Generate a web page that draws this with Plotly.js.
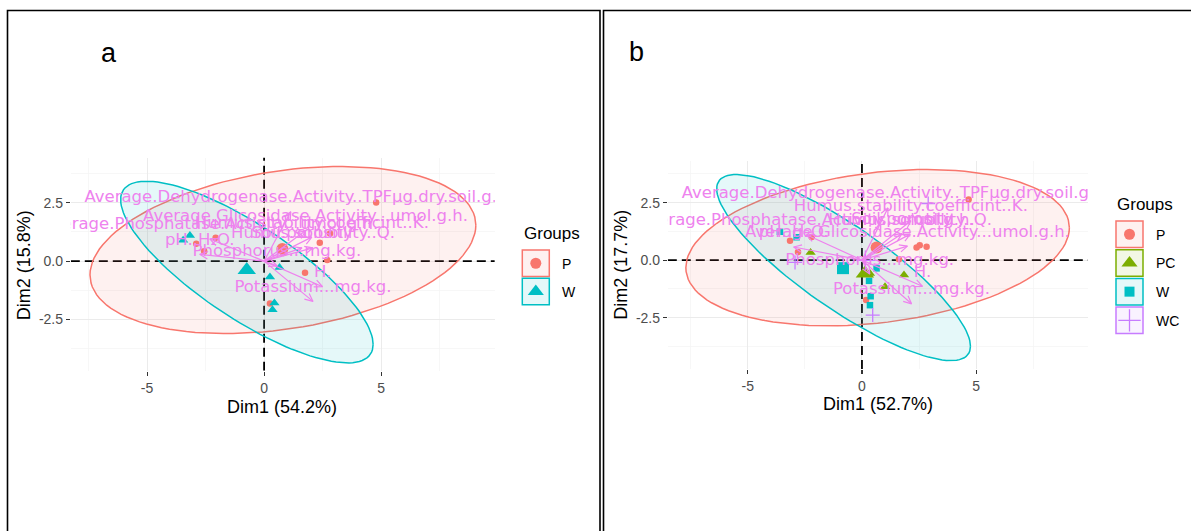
<!DOCTYPE html>
<html><head><meta charset="utf-8">
<script src="https://cdn.plot.ly/plotly-3.0.1.min.js"></script>
<style>html,body{margin:0;padding:0;background:#fff;}#chart{width:1191px;height:531px;}</style>
</head><body><div id="chart"></div>
<script>
// ---------------- data : panel a ----------------
const groupsA = ['P', 'W'];
const aP_x = [4.79, 2.82, 2.38, 2.70, 1.75, 0.25, 0.83, -2.07, -2.90, -2.56];
const aP_y = [2.52, 1.18, 0.79, 0.05, -0.50, -1.82, 0.35, 1.00, 0.74, 0.42];
const aW_x = [-3.17, -3.46, 0.66, 0.25, 0.44, 0.36];
const aW_y = [1.10, 0.89, -0.28, -0.68, -1.80, -2.09];
const aCentre_x = [0.78, -0.74];
const aCentre_y = [0.52, -0.38];
const aVarNames = ['Average.Dehydrogenase.Activity..TPFµg.dry.soil.g.', 'Average.Glicosidase.Activity...umol.g.h.',
  'Average.Phosphatase.Activity...umol.g.h.', 'Humus.stability.coefficint..K.', 'Soil.porosity',
  'Humus.solubility..Q.', 'pH..H₂O.', 'Phosphorus...mg.kg.', 'H.', 'Potassium...mg.kg.'];
const aVar_x = [1.14, 1.77, -2.32, 2.04, 1.62, 2.09, -2.75, 0.55, 2.50, 2.09];
const aVar_y = [2.12, 1.30, 0.95, 1.03, 0.57, 0.57, 0.29, -0.20, -1.10, -1.73];
// ellipse: centre x, centre y, half width, half height, x-shift of top point
const aEllP = [0.805, 0.475, 8.245, 3.585, 2.455];
const aEllW = [-0.735, -0.47, 5.395, 3.90, -4.295];
const aRangeX = [-8.26, 9.86], aRangeY = [-4.708, 4.446];
const aTitleX = 'Dim1 (54.2%)', aTitleY = 'Dim2 (15.8%)';

// ---------------- data : panel b ----------------
const groupsB = ['P', 'PC', 'W', 'WC'];
const bP_x = [4.67, 2.83, 2.53, 2.39, 1.62, 0.18, -2.20, -3.15, -2.80];
const bP_y = [2.64, 0.58, 0.65, 0.55, 0.04, -1.74, 1.00, 0.84, 0.35];
const bPC_x = [-2.25, 1.84, 1.01, 0.35];
const bPC_y = [0.33, -0.65, -1.16, -0.58];
const bW_x = [-3.59, -2.86, 0.64, 0.31, 0.38, 0.35];
const bW_y = [1.23, 0.99, -0.36, -0.90, -1.57, -1.96];
const bWC_x = [0.47, -2.93, 2.90];
const bWC_y = [-2.39, -0.10, 2.46];
const bCentre_x = [0.64, 0.13, -0.83, 0.15];
const bCentre_y = [0.55, -0.58, -0.35, -0.01];
const bVarNames = ['Average.Dehydrogenase.Activity..TPFµg.dry.soil.g.', 'Humus.stability.coefficint..K.',
  'Average.Phosphatase.Activity...umol.g.h.', 'Humus.solubility..Q.', 'Soil.porosity',
  'Average.Glicosidase.Activity...umol.g.h.', 'pH..H₂O.', 'Phosphorus...mg.kg.', 'H.', 'Potassium...mg.kg.'];
const bVar_x = [1.14, 2.14, -2.43, 2.11, 1.75, 1.99, -2.99, 0.34, 2.65, 2.17];
const bVar_y = [2.27, 1.71, 1.10, 1.13, 1.15, 0.61, 0.57, -0.61, -1.14, -1.90];
const bEllP = [0.685, 0.54, 8.395, 3.40, 2.145];
const bEllW = [-0.805, -0.325, 5.555, 4.045, -4.70];
const bRangeX = [-8.5, 9.9], bRangeY = [-4.735, 4.309];
const bTitleX = 'Dim1 (52.7%)', bTitleY = 'Dim2 (17.7%)';

const xTickVals = [-5, 0, 5], xTickText = ['-5', '0', '5'];
const yTickVals = [-2.5, 0, 2.5], yTickText = ['-2.5', '0.0', '2.5'];

// ---------------- styling ----------------
const COL = {P: '#F8766D', PC: '#7CAE00', W: '#00BFC4', WC: '#C77CFF'};
const FILL = {P: 'rgba(248,118,109,0.10)', PC: 'rgba(124,174,0,0.10)', W: 'rgba(0,191,196,0.10)', WC: 'rgba(199,124,255,0.10)'};
const SYM_A = {P: 'circle', W: 'triangle-up'};
const SYM_B = {P: 'circle', PC: 'triangle-up', W: 'square', WC: 'cross-thin'};
const SIZE_SMALL = {'circle': 6.5, 'triangle-up': 9, 'square': 6.5, 'cross-thin': 10};
const SIZE_BIG = {'circle': 12, 'triangle-up': 16, 'square': 12, 'cross-thin': 14};
const SIZE_KEY = {'circle': 11, 'triangle-up': 14, 'square': 10, 'cross-thin': 16};
const VIOLET = '#EE82EE';
const W = 1191, H = 531;
const px = v => v / W, py = v => 1 - v / H;
const SANS = 'Liberation Sans, Arial, sans-serif';

function ellipse(p) {
  const [cx, cy, hw, hh, sh] = p;
  const B = sh * hh / hw, C = Math.sqrt(hh * hh - B * B);
  const xs = [], ys = [];
  for (let i = 0; i <= 120; i++) {
    const t = 2 * Math.PI * i / 120;
    xs.push(cx + hw * Math.cos(t));
    ys.push(cy + B * Math.cos(t) + C * Math.sin(t));
  }
  return [xs, ys];
}
function arrows(xs, ys) {
  const X = [], Y = [], L = 0.38, a = 25 * Math.PI / 180;
  xs.forEach((x, i) => {
    const y = ys[i], th = Math.atan2(y, x);
    X.push(0, x, null, x - L * Math.cos(th + a), x, x - L * Math.cos(th - a), null);
    Y.push(0, y, null, y - L * Math.sin(th + a), y, y - L * Math.sin(th - a), null);
  });
  return [X, Y];
}
function markerFor(g, sym, size) {
  const m = {symbol: sym, size: size, color: COL[g]};
  if (sym === 'cross-thin') m.line = {color: COL[g], width: 1.3};
  return m;
}

const traces = [];
function panel(xa, ya, rx, ry, SYM, ells, pts, centres, vx, vy, vnames) {
  // dashed reference lines through the origin
  traces.push({type: 'scatter', mode: 'lines', x: [0, 0], y: ry, xaxis: xa, yaxis: ya,
    line: {color: '#000', width: 1.8, dash: '9px,5px'}, hoverinfo: 'skip', showlegend: false, cliponaxis: true});
  traces.push({type: 'scatter', mode: 'lines', x: rx, y: [0, 0], xaxis: xa, yaxis: ya,
    line: {color: '#000', width: 1.8, dash: '9px,5px'}, hoverinfo: 'skip', showlegend: false, cliponaxis: true});
  ells.forEach(([g, p]) => {
    const [ex, ey] = ellipse(p);
    traces.push({type: 'scatter', mode: 'lines', x: ex, y: ey, xaxis: xa, yaxis: ya, fill: 'toself',
      fillcolor: FILL[g], line: {color: COL[g], width: 1.5}, hoverinfo: 'skip', showlegend: false});
  });
  pts.forEach(([g, xs, ys]) => {
    traces.push({type: 'scatter', mode: 'markers', x: xs, y: ys, xaxis: xa, yaxis: ya,
      marker: markerFor(g, SYM[g], SIZE_SMALL[SYM[g]]), showlegend: false});
  });
  centres.forEach(([g, x, y]) => {
    traces.push({type: 'scatter', mode: 'markers', x: [x], y: [y], xaxis: xa, yaxis: ya,
      marker: markerFor(g, SYM[g], SIZE_BIG[SYM[g]]), showlegend: false});
  });
  const [ax, ay] = arrows(vx, vy);
  traces.push({type: 'scatter', mode: 'lines', x: ax, y: ay, xaxis: xa, yaxis: ya,
    line: {color: VIOLET, width: 1.2}, hoverinfo: 'skip', showlegend: false});
  traces.push({type: 'scatter', mode: 'markers+text', x: vx, y: vy, xaxis: xa, yaxis: ya, text: vnames,
    textposition: 'top center', marker: {size: 7, opacity: 0},
    textfont: {family: 'DejaVu Sans', size: 16.5, color: VIOLET}, showlegend: false});
}

panel('x', 'y', aRangeX, aRangeY, SYM_A, [['P', aEllP], ['W', aEllW]],
  [['P', aP_x, aP_y], ['W', aW_x, aW_y]],
  groupsA.map((g, i) => [g, aCentre_x[i], aCentre_y[i]]), aVar_x, aVar_y, aVarNames);
panel('x2', 'y2', bRangeX, bRangeY, SYM_B, [['P', bEllP], ['W', bEllW]],
  [['P', bP_x, bP_y], ['PC', bPC_x, bPC_y], ['W', bW_x, bW_y], ['WC', bWC_x, bWC_y]],
  groupsB.map((g, i) => [g, bCentre_x[i], bCentre_y[i]]), bVar_x, bVar_y, bVarNames);

// ---------------- legends ----------------
const shapes = [], annotations = [];
function legend(xa, ya, groups, SYM, boxX0, boxTop, step, titleX, titleY) {
  groups.forEach((g, i) => {
    const t = boxTop + i * step;
    shapes.push({type: 'rect', xref: xa, yref: ya, x0: boxX0, x1: boxX0 + 27, y0: t, y1: t + 26.5,
      line: {color: COL[g], width: 1.5}, fillcolor: FILL[g], layer: 'below'});
    traces.push({type: 'scatter', mode: 'markers', x: [boxX0 + 13.5], y: [t + 13.25], xaxis: xa, yaxis: ya,
      marker: markerFor(g, SYM[g], SIZE_KEY[SYM[g]]), showlegend: false, hoverinfo: 'skip'});
    annotations.push({text: g, xref: 'paper', yref: 'paper', x: px(boxX0 + 38), y: py(t + 13.5),
      xanchor: 'left', yanchor: 'middle', showarrow: false, font: {family: SANS, size: 14, color: '#000'}});
  });
  annotations.push({text: 'Groups', xref: 'paper', yref: 'paper', x: px(titleX), y: py(titleY),
    xanchor: 'left', yanchor: 'middle', showarrow: false, font: {family: SANS, size: 17, color: '#000'}});
}
legend('x3', 'y3', groupsA, SYM_A, 522.3, 250, 28.3, 521.5, 234);
legend('x4', 'y4', groupsB, SYM_B, 1116, 221, 28.7, 1114.5, 204);

// axis titles & panel letters
function titles(tx, ty, xc, xy, yc, yy, letter, lx, ly) {
  annotations.push({text: tx, xref: 'paper', yref: 'paper', x: px(xc), y: py(xy), xanchor: 'center', yanchor: 'middle',
    showarrow: false, font: {family: SANS, size: 18, color: '#000'}});
  annotations.push({text: ty, xref: 'paper', yref: 'paper', x: px(yc), y: py(yy), xanchor: 'center', yanchor: 'middle',
    textangle: -90, showarrow: false, font: {family: SANS, size: 18, color: '#000'}});
  annotations.push({text: letter, xref: 'paper', yref: 'paper', x: px(lx), y: py(ly), xanchor: 'center', yanchor: 'middle',
    showarrow: false, font: {family: SANS, size: 27, color: '#000'}});
}
titles(aTitleX, aTitleY, 282, 407, 24.3, 265, 'a', 109, 53);
titles(bTitleX, bTitleY, 877.6, 404, 620.7, 265, 'b', 636, 52);

// panel frames
shapes.push({type: 'rect', xref: 'paper', yref: 'paper', x0: px(7.5), x1: px(600), y0: py(560), y1: py(10.5),
  line: {color: '#000', width: 1.6}, fillcolor: 'rgba(0,0,0,0)', layer: 'above'});
shapes.push({type: 'rect', xref: 'paper', yref: 'paper', x0: px(603.5), x1: px(1200), y0: py(560), y1: py(10.5),
  line: {color: '#000', width: 1.6}, fillcolor: 'rgba(0,0,0,0)', layer: 'above'});

function xAxis(d0, d1, r, anchor) {
  return {domain: [px(d0), px(d1)], range: r, anchor: anchor, tickmode: 'array', tickvals: xTickVals, ticktext: xTickText,
    ticks: 'outside', ticklen: 4, tickwidth: 1.1, tickcolor: '#333', showgrid: true, gridcolor: '#EBEBEB', gridwidth: 1,
    minor: {tickmode: 'array', tickvals: [-7.5, -2.5, 2.5, 7.5], showgrid: true, gridcolor: '#F3F3F3', gridwidth: 0.7, ticks: ''},
    zeroline: false, showline: false, tickfont: {family: SANS, size: 14, color: '#4D4D4D'}, fixedrange: true};
}
function yAxis(t, b, r, anchor) {
  return {domain: [py(b), py(t)], range: r, anchor: anchor, tickmode: 'array', tickvals: yTickVals, ticktext: yTickText,
    ticks: 'outside', ticklen: 4, tickwidth: 1.1, tickcolor: '#333', showgrid: true, gridcolor: '#EBEBEB', gridwidth: 1,
    minor: {tickmode: 'array', tickvals: [-3.75, -1.25, 1.25, 3.75], showgrid: true, gridcolor: '#F3F3F3', gridwidth: 0.7, ticks: ''},
    zeroline: false, showline: false, tickfont: {family: SANS, size: 14, color: '#4D4D4D'}, fixedrange: true};
}
const hidden = (d0, d1, r, anchor) => ({domain: [d0, d1], range: r, anchor: anchor, visible: false, fixedrange: true});

const layout = {
  width: W, height: H, margin: {l: 0, r: 0, t: 0, b: 0}, paper_bgcolor: '#fff', plot_bgcolor: 'rgba(0,0,0,0)',
  showlegend: false, hovermode: false,
  xaxis: xAxis(70.8, 494.8, aRangeX, 'y'),
  yaxis: yAxis(157.5, 370.8, aRangeY, 'x'),
  xaxis2: xAxis(667.8, 1088.1, bRangeX, 'y2'),
  yaxis2: yAxis(161, 369, bRangeY, 'x2'),
  xaxis3: hidden(px(505), px(598), [505, 598], 'y3'),
  yaxis3: hidden(py(320), py(215), [320, 215], 'x3'),
  xaxis4: hidden(px(1105), px(1190), [1105, 1190], 'y4'),
  yaxis4: hidden(py(345), py(195), [345, 195], 'x4'),
  shapes: shapes, annotations: annotations
};
Plotly.newPlot('chart', traces, layout, {displayModeBar: false, staticPlot: true});
</script></body></html>
